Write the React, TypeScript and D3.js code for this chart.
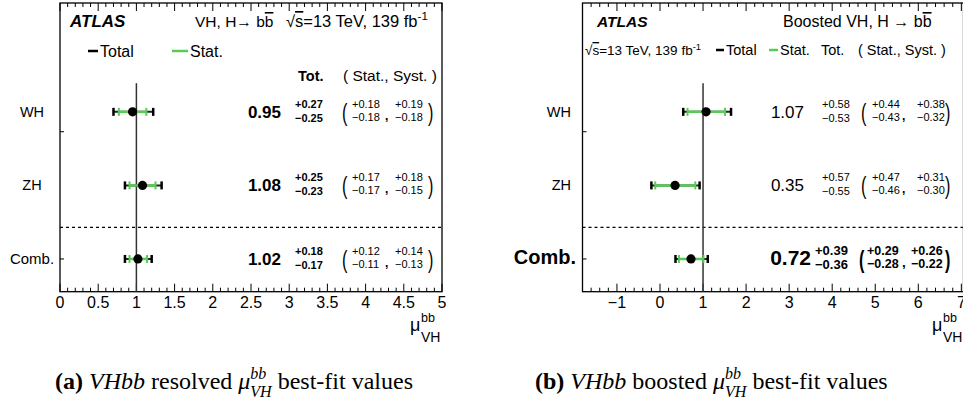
import React, { useEffect, useRef } from "react";
import * as d3 from "d3";

// rows, top to bottom
const categories = ["WH", "ZH", "Comb."];
const rowIndex = [2, 1, 0];

// (a) resolved
const resMu = [0.95, 1.08, 1.02];
const resTotUp = [0.27, 0.25, 0.18];
const resTotDn = [0.25, 0.23, 0.17];
const resStatUp = [0.18, 0.17, 0.12];
const resStatDn = [0.18, 0.17, 0.11];
const resSystUp = [0.19, 0.18, 0.14];
const resSystDn = [0.18, 0.15, 0.13];
const resTicks = [0, 0.5, 1, 1.5, 2, 2.5, 3, 3.5, 4, 4.5, 5];
const resTickLabels = ["0", "0.5", "1", "1.5", "2", "2.5", "3", "3.5", "4", "4.5", "5"];

// (b) boosted
const bstMu = [1.07, 0.35, 0.72];
const bstTotUp = [0.58, 0.57, 0.39];
const bstTotDn = [0.53, 0.55, 0.36];
const bstStatUp = [0.44, 0.47, 0.29];
const bstStatDn = [0.43, 0.46, 0.28];
const bstSystUp = [0.38, 0.31, 0.26];
const bstSystDn = [0.32, 0.3, 0.22];
const bstTicks = [-1, 0, 1, 2, 3, 4, 5, 6, 7];
const bstTickLabels = ["\u22121", "0", "1", "2", "3", "4", "5", "6", "7"];

const SANS = "Liberation Sans, Arial, Helvetica, sans-serif";
const SERIF = "Liberation Serif, Times New Roman, serif";
const GREEN = "#55cc55";

const up = (v: number) => "+" + v.toFixed(2);
const dn = (v: number) => "\u2212" + v.toFixed(2);

// row position scale (shared by both panels)
const yRow = d3.scaleLinear().domain([-0.445, 3.48]).range([291.7, 3]);

// small text helper
function T(g: any, x: number, y: number, s: string, size: number, o: any = {}) {
  return g.append("text")
    .attr("x", x).attr("y", y)
    .attr("font-family", o.family || SANS)
    .attr("font-size", size)
    .attr("font-weight", o.bold ? "bold" : "normal")
    .attr("font-style", o.italic ? "italic" : "normal")
    .attr("text-anchor", o.anchor || "start")
    .text(s);
}

// tall thin bracket like ROOT's #left( ... #right)
function paren(g: any, x: number, y: number, s: string, bold: boolean) {
  g.append("text")
    .attr("transform", `translate(${x},${y}) scale(0.85,1.3)`)
    .attr("font-family", SANS).attr("font-size", 19)
    .attr("font-weight", bold ? "bold" : "normal")
    .text(s);
}

function drawPanel(svg: any, cfg: any) {
  const x = d3.scaleLinear().domain(cfg.domain).range(cfg.range);
  const [x0, x1] = cfg.range;
  const yTop = yRow(3.48);
  const yBot = yRow(-0.445);
  const g = svg.append("g");

  // frame
  g.append("rect")
    .attr("x", x0).attr("y", yTop)
    .attr("width", x1 - x0).attr("height", yBot - yTop)
    .attr("fill", "none").attr("stroke", "#000").attr("stroke-width", 1.3);

  // ticks top + bottom
  const [d0, d1] = cfg.domain;
  const minor = d3.range(Math.ceil(d0 / cfg.minorStep - 1e-6), Math.floor(d1 / cfg.minorStep + 1e-6) + 1)
    .map(i => +(i * cfg.minorStep).toFixed(4));
  minor.forEach((v: number) => {
    const isMajor = cfg.ticks.some((t: number) => Math.abs(t - v) < 1e-6);
    const len = isMajor ? 8 : 4;
    g.append("line").attr("x1", x(v)).attr("x2", x(v)).attr("y1", yBot).attr("y2", yBot - len)
      .attr("stroke", "#000").attr("stroke-width", 1);
    g.append("line").attr("x1", x(v)).attr("x2", x(v)).attr("y1", yTop).attr("y2", yTop + len)
      .attr("stroke", "#000").attr("stroke-width", 1);
  });
  cfg.ticks.forEach((t: number, i: number) => {
    T(g, x(t), 308, cfg.tickLabels[i], 16, { anchor: "middle" });
  });
  // small y ticks on left frame
  [0, 1.73].forEach(v => {
    g.append("line").attr("x1", x0).attr("x2", x0 + 4).attr("y1", yRow(v)).attr("y2", yRow(v))
      .attr("stroke", "#000").attr("stroke-width", 1);
  });

  // axis title mu^bb_VH
  const ax = cfg.muX;
  T(g, ax, 331, "\u03bc", 18);
  T(g, ax + 11, 322, "bb", 12.5);
  T(g, ax + 11, 342, "VH", 14);

  // dashed separator
  g.append("line").attr("x1", x0).attr("x2", x1).attr("y1", yRow(0.43)).attr("y2", yRow(0.43))
    .attr("stroke", "#000").attr("stroke-width", 1.3).attr("stroke-dasharray", "3,3");

  // SM line at mu=1
  g.append("line").attr("x1", x(1)).attr("x2", x(1)).attr("y1", yRow(2.39)).attr("y2", yBot)
    .attr("stroke", "#333").attr("stroke-width", 1.5);

  categories.forEach((c, i) => {
    const y = yRow(rowIndex[i]);
    const mu = cfg.mu[i];
    const tl = x(mu - cfg.totDn[i]), th = x(mu + cfg.totUp[i]);
    const sl = x(mu - cfg.statDn[i]), sh = x(mu + cfg.statUp[i]);
    // total
    g.append("line").attr("x1", tl).attr("x2", th).attr("y1", y).attr("y2", y)
      .attr("stroke", "#222").attr("stroke-width", 2);
    [tl, th].forEach(px => g.append("line").attr("x1", px).attr("x2", px).attr("y1", y - 4).attr("y2", y + 4)
      .attr("stroke", "#000").attr("stroke-width", 2.5));
    // stat
    g.append("line").attr("x1", sl).attr("x2", sh).attr("y1", y).attr("y2", y)
      .attr("stroke", GREEN).attr("stroke-width", 2.5);
    [sl, sh].forEach(px => g.append("line").attr("x1", px).attr("x2", px).attr("y1", y - 4).attr("y2", y + 4)
      .attr("stroke", GREEN).attr("stroke-width", 2));
    g.append("circle").attr("cx", x(mu)).attr("cy", y).attr("r", 4.6).attr("fill", "#000");

    // texts
    const L = cfg.layout(i);
    T(g, L.labelX, y + 5, c, L.labelSize, { bold: L.labelBold, anchor: L.labelAnchor });
    T(g, L.valEnd, y + 6, mu.toFixed(2), L.valSize, { bold: L.valBold, anchor: "end" });
    T(g, L.errX, y - 4, up(cfg.totUp[i]), L.errSize, { bold: L.valBold });
    T(g, L.errX, y + 10, dn(cfg.totDn[i]), L.errSize, { bold: L.valBold });
    paren(g, L.parenL, y + 9, "(", L.parenBold);
    paren(g, L.parenR, y + 9, ")", L.parenBold);
    T(g, L.statX, y - 4, up(cfg.statUp[i]), L.ssSize, { bold: L.parenBold });
    T(g, L.statX, y + 9, dn(cfg.statDn[i]), L.ssSize, { bold: L.parenBold });
    T(g, L.commaX, y + 8, ",", L.ssSize + 1, { bold: true });
    T(g, L.systX, y - 4, up(cfg.systUp[i]), L.ssSize, { bold: L.parenBold });
    T(g, L.systX, y + 9, dn(cfg.systDn[i]), L.ssSize, { bold: L.parenBold });
  });
  return g;
}

function addLumi(g: any, xPos: number, y: number, size: number) {
  const t = g.append("text").attr("x", xPos).attr("y", y).attr("font-family", SANS).attr("font-size", size);
  t.append("tspan").text("\u221a");
  t.append("tspan").style("text-decoration", "overline").text("s");
  t.append("tspan").text("=13 TeV, 139 fb");
  t.append("tspan").attr("font-size", size * 0.7).attr("dy", -size * 0.4).text("-1");
}

function addHeader(g: any, xPos: number, y: number, size: number, lead: string) {
  const t = g.append("text").attr("x", xPos).attr("y", y).attr("font-family", SANS).attr("font-size", size);
  t.append("tspan").text(lead);
  t.append("tspan").text("b");
  t.append("tspan").style("text-decoration", "overline").text("b");
}

function addLegendItem(g: any, xLine: number, wLine: number, y: number, color: string, label: string, size: number) {
  g.append("line").attr("x1", xLine).attr("x2", xLine + wLine).attr("y1", y).attr("y2", y)
    .attr("stroke", color).attr("stroke-width", 2.5);
  T(g, xLine + wLine + 2, y + size * 0.36, label, size);
}

function addCaption(svg: any, xPos: number, tag: string, word: string) {
  const t = svg.append("text").attr("x", xPos).attr("y", 389).attr("font-family", SERIF).attr("font-size", 24);
  t.append("tspan").attr("font-weight", "bold").text(tag);
  t.append("tspan").attr("font-style", "italic").text(" VHbb");
  t.append("tspan").text(` ${word} `);
  t.append("tspan").attr("font-style", "italic").text("\u03bc");
  t.append("tspan").attr("font-style", "italic").attr("font-size", 16).attr("dy", -10).text("bb");
  t.append("tspan").attr("font-style", "italic").attr("font-size", 16).attr("dx", -16).attr("dy", 18).text("VH");
  t.append("tspan").attr("dy", -8).text(" best-fit values");
}

export default function App() {
  const ref = useRef<SVGSVGElement>(null);

  useEffect(() => {
    const svg = d3.select(ref.current);
    svg.selectAll("*").remove();

    // (a) resolved
    const ga = drawPanel(svg, {
      domain: [0, 5], range: [60, 442], ticks: resTicks, tickLabels: resTickLabels, minorStep: 0.1,
      mu: resMu, totUp: resTotUp, totDn: resTotDn, statUp: resStatUp, statDn: resStatDn,
      systUp: resSystUp, systDn: resSystDn, muX: 410,
      layout: (i: number) => ({
        labelX: 32, labelAnchor: "middle", labelSize: i === 2 ? 15 : 14.5, labelBold: false,
        valEnd: 281, valSize: 17, valBold: true,
        errX: 295, errSize: 11,
        parenL: 342, parenR: 428, parenBold: false,
        statX: 352, commaX: 385, systX: 395, ssSize: 11,
      }),
    });
    T(ga, 70, 27, "ATLAS", 17, { bold: true, italic: true });
    addHeader(ga, 195, 27, 15.5, "VH, H\u2192 ");
    addLumi(ga, 286, 27, 16.5);
    addLegendItem(ga, 88, 10, 51, "#000", "Total", 16);
    addLegendItem(ga, 172, 16, 51, GREEN, "Stat.", 16);
    T(ga, 298, 81, "Tot.", 14.5, { bold: true });
    T(ga, 343, 81, "( Stat., Syst. )", 15.5);

    // (b) boosted
    const gb = drawPanel(svg, {
      domain: [-1.8, 7.05], range: [582.5, 963.5], ticks: bstTicks, tickLabels: bstTickLabels, minorStep: 0.2,
      mu: bstMu, totUp: bstTotUp, totDn: bstTotDn, statUp: bstStatUp, statDn: bstStatDn,
      systUp: bstSystUp, systDn: bstSystDn, muX: 932,
      layout: (i: number) => i === 2 ? ({
        labelX: 576, labelAnchor: "end", labelSize: 20, labelBold: true,
        valEnd: 811, valSize: 21, valBold: true,
        errX: 815, errSize: 13,
        parenL: 859, parenR: 945, parenBold: true,
        statX: 867, commaX: 902, systX: 911, ssSize: 12.5,
      }) : ({
        labelX: 571, labelAnchor: "end", labelSize: 14.5, labelBold: false,
        valEnd: 804, valSize: 17, valBold: false,
        errX: 822, errSize: 11,
        parenL: 861, parenR: 945, parenBold: false,
        statX: 872, commaX: 902, systX: 917, ssSize: 11,
      }),
    });
    T(gb, 597, 27, "ATLAS", 15.5, { bold: true, italic: true });
    addHeader(gb, 783, 27, 16, "Boosted VH, H \u2192 ");
    addLumi(gb, 585, 55, 13.5);
    addLegendItem(gb, 716, 8, 50, "#000", "Total", 14.5);
    addLegendItem(gb, 769, 9, 50, GREEN, "Stat.", 14.5);
    T(gb, 821, 55, "Tot.", 14.5);
    T(gb, 858, 55, "( Stat., Syst. )", 14.5);

    addCaption(svg, 55, "(a)", "resolved");
    addCaption(svg, 535, "(b)", "boosted");
  }, []);

  return (
    <svg ref={ref} width={963} height={407}
      style={{ position: "absolute", left: 0, top: 0, background: "#fff" }} />
  );
}
